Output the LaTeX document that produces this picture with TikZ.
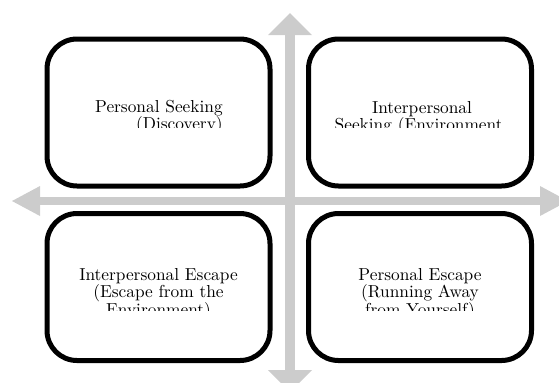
\documentclass[tikz,border=0pt]{standalone}
\usepackage{tikz}
\usetikzlibrary{arrows.meta,positioning}
\colorlet{axisgray}{gray!40}

\begin{document}
\begin{tikzpicture}[
x=0.6pt,y=-0.6pt,
QuadBox/.style={draw=black,line width=3pt,rounded corners=18pt,fill=white,minimum width=133.8pt,minimum height=88.2pt},
QuadText/.style={inner sep=0pt,font=\fontsize{10.4}{10.5}\selectfont},
AxisH/.style={draw=axisgray,line width=5.1pt,{Triangle[length=16.8pt,width=18pt,line width=0pt]}-{Triangle[length=16.8pt,width=18pt,line width=0pt]}},
AxisV/.style={draw=axisgray,line width=6pt,{Triangle[length=13.2pt,width=26.4pt,line width=0pt]}-{Triangle[length=13.2pt,width=26.4pt,line width=0pt]}}
]
\useasboundingbox (0,0) rectangle (559,382);
\clip (0,0) rectangle (559,382);

% the cross
\coordinate (W) at (12,201);
\coordinate (E) at (568,201);
\coordinate (N) at (290,13);
\coordinate (S) at (290,392);
\draw[AxisH] (W)--(E);
\draw[AxisV] (N)--(S);

% the four boxes
\node[QuadBox] (SeekP) at (158.5,112.5) {};
\node[QuadBox] (SeekI) at (420,112.5) {};
\node[QuadBox] (EscI) at (158.5,287) {};
\node[QuadBox] (EscP) at (420,287) {};

% texts, cut off at the bottom as in the original
% (base = baseline of the last line)
\begin{scope}
\clip (50,42) rectangle (267,127);
\node[QuadText,anchor=base east,align=right] (tSeekP) at (223,129.5) {Personal Seeking\\(Discovery)};
\end{scope}
\begin{scope}
\clip (312,42) rectangle (500,127);
\node[QuadText,anchor=base,align=center] (tSeekI) at (422,130.5) {Interpersonal\\Seeking (Environment)};
\end{scope}
\begin{scope}
\clip (50,216) rectangle (267,310);
\node[QuadText,anchor=base,align=center] (tEscI) at (158.5,315) {Interpersonal Escape\\(Escape from the\\Environment)};
\end{scope}
\begin{scope}
\clip (312,216) rectangle (528,310);
\node[QuadText,anchor=base,align=center] (tEscP) at (420,315) {Personal Escape\\(Running Away\\from Yourself)};
\end{scope}

\end{tikzpicture}
\end{document}
